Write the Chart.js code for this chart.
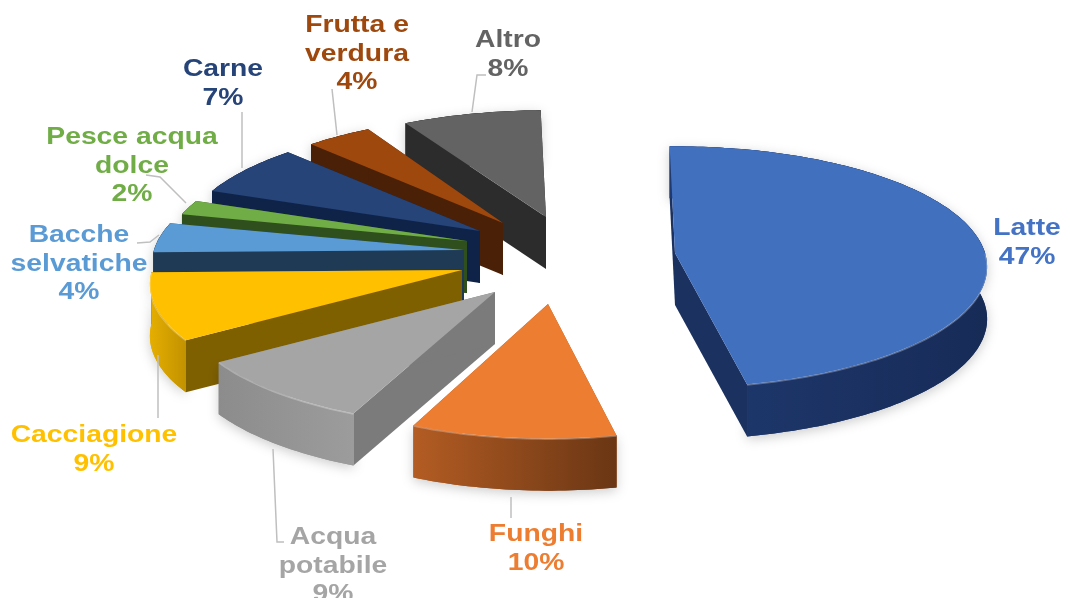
<!DOCTYPE html>
<html>
<head>
<meta charset="utf-8">
<title>Latte 47%</title>
<style>
  html, body { margin: 0; padding: 0; background: #fff; }
  canvas { display: block; }
</style>
<script src="https://cdn.jsdelivr.net/npm/chart.js@4/dist/chart.umd.min.js"></script>
</head>
<body>
<canvas id="pie" width="1068" height="598"></canvas>
<script>
// ── Data ────────────────────────────────────────────────────
const categories = ['Latte', 'Funghi', ['Acqua', 'potabile'], 'Cacciagione', ['Bacche', 'selvatiche'],
  ['Pesce acqua', 'dolce'], 'Carne', ['Frutta e', 'verdura'], 'Altro'];
const values = [47, 10, 9, 9, 4, 2, 7, 4, 8];

// ── Colours ─────────────────────────────────────────────────
const topColors = ['#4170bf', '#ed7d31', '#a5a5a5', '#ffc000', '#5b9bd5', '#70ad47', '#264478', '#9e480e', '#636363'];
const faceColors = ['#1b3160', '#a5541e', '#7b7b7b', '#7f6000', '#1f3a55', '#2f4f1c', '#0f2348', '#4a2006', '#2c2c2c'];
const rimColors = [
  ['#1f3a70', '#172b57'], ['#b35c23', '#6a3614'], ['#8c8c8c', '#9c9c9c'],
  ['#e5ae00', '#c29200'], ['#1f3a55', '#1f3a55'], ['#2f4f1c', '#2f4f1c'],
  ['#0f2348', '#0f2348'], ['#4a2006', '#4a2006'], ['#2c2c2c', '#2c2c2c']
];
const textColors = ['#4472c4', '#ed7d31', '#a5a5a5', '#ffc000', '#5b9bd5', '#70ad47', '#264478', '#9e480e', '#636363'];

// ── Layout ──────────────────────────────────────────────────
// where each exploded slice's tip sits on the page
const sliceTips = [[675, 253], [548, 304], [495, 292], [462, 270], [464, 250], [467, 241], [480, 231], [503, 223], [546, 217]];
// horizontal narrowing of each slice
const sliceWidths = [1, 0.95, 1, 1, 1, 0.97, 0.96, 0.96, 1];
// label anchor: centre x, first line centre y
const labelAnchors = [[1027, 229], [536, 535], [333, 538], [94, 436], [79, 236], [132, 138], [223, 70], [357, 26], [508, 41]];
const leaderLines = [
  null,
  [[511, 497], [511, 518]],
  [[273, 449], [277, 542], [284, 542]],
  [[158, 355], [158, 418]],
  [[137, 243], [150, 242], [159, 235]],
  [[146, 175], [160, 177], [186, 203]],
  [[242, 112], [242, 168]],
  [[332, 89], [337, 135]],
  [[486, 75], [477, 75], [472, 112]]
];

const SQUASH = 0.384;      // ellipse height / width
const PERSPECTIVE = 0.116; // how much nearer the front rim looks
const DEPTH = 52;          // slice thickness
const LINE_H = 28.5;
const TEXT_STRETCH = 1.23; // labels are set wide

// ── Plugin: tilted, extruded pie drawn from the arc elements ─
function project(tip, radius, angle, widthScale) {
  const u = Math.cos(angle), v = Math.sin(angle);
  const f = 1 / (1 - PERSPECTIVE * v);
  return [tip[0] + radius * widthScale * u * f, tip[1] + radius * SQUASH * v * f];
}

function rimPoints(arc, i) {
  const pts = [];
  const steps = Math.max(4, Math.ceil((arc.endAngle - arc.startAngle) / 0.02));
  for (let s = 0; s <= steps; s++) {
    pts.push(project(sliceTips[i], arc.outerRadius, arc.startAngle + (arc.endAngle - arc.startAngle) * s / steps, sliceWidths[i]));
  }
  return pts;
}

function fillPoly(ctx, pts, fill) {
  ctx.fillStyle = fill;
  ctx.beginPath();
  pts.forEach((p, i) => i ? ctx.lineTo(p[0], p[1]) : ctx.moveTo(p[0], p[1]));
  ctx.closePath();
  ctx.fill();
}

function drawSlice(ctx, arc, i) {
  const tip = sliceTips[i];
  const rim = rimPoints(arc, i);
  const first = rim[0], last = rim[rim.length - 1];
  const down = p => [p[0], p[1] + DEPTH];

  // rim wall, with a soft shadow on the paper
  const xs = rim.map(p => p[0]);
  const grad = ctx.createLinearGradient(Math.min(...xs), 0, Math.max(...xs), 0);
  grad.addColorStop(0, rimColors[i][0]);
  grad.addColorStop(1, rimColors[i][1]);
  const wall = rim.concat(rim.slice().reverse().map(down));
  ctx.save();
  ctx.shadowColor = 'rgba(0,0,0,.2)';
  ctx.shadowBlur = 12;
  ctx.shadowOffsetY = 3;
  fillPoly(ctx, wall, grad);
  ctx.restore();

  // the two cut faces
  fillPoly(ctx, [tip, first, down(first), down(tip)], faceColors[i]);
  fillPoly(ctx, [tip, last, down(last), down(tip)], faceColors[i]);
  fillPoly(ctx, wall, grad);

  // top surface
  fillPoly(ctx, [tip].concat(rim), topColors[i]);

  // bevel highlight, only where the rim faces the viewer
  ctx.strokeStyle = 'rgba(255,255,255,.28)';
  ctx.lineWidth = 1.5;
  ctx.beginPath();
  let pen = false;
  rim.forEach(p => {
    if (p[1] < tip[1]) { pen = false; return; }
    if (pen) ctx.lineTo(p[0], p[1] + 0.5);
    else ctx.moveTo(p[0], p[1] + 0.5);
    pen = true;
  });
  ctx.stroke();
}

function drawLabel(ctx, i) {
  const lines = [].concat(categories[i], values[i] + '%');
  const [cx, cy] = labelAnchors[i];
  ctx.fillStyle = textColors[i];
  lines.forEach((line, k) => {
    ctx.save();
    ctx.translate(cx, cy + k * LINE_H);
    ctx.scale(TEXT_STRETCH, 1);
    ctx.fillText(line, 0, 0);
    ctx.restore();
  });
}

const pie3dPlugin = {
  id: 'pie3d',
  beforeDatasetsDraw(chart) {
    const { ctx } = chart;
    const arcs = chart.getDatasetMeta(0).data;

    ctx.save();
    // nearest slices last so they cover the ones behind
    for (let i = arcs.length - 1; i >= 0; i--) drawSlice(ctx, arcs[i], i);

    ctx.strokeStyle = '#bfbfbf';
    ctx.lineWidth = 1.5;
    leaderLines.forEach(line => {
      if (!line) return;
      ctx.beginPath();
      line.forEach((p, k) => k ? ctx.lineTo(p[0], p[1]) : ctx.moveTo(p[0], p[1]));
      ctx.stroke();
    });

    ctx.font = "bold 23px 'Liberation Sans', Arial, sans-serif";
    ctx.textAlign = 'center';
    ctx.textBaseline = 'middle';
    arcs.forEach((_, i) => drawLabel(ctx, i));
    ctx.restore();
    return false;
  }
};

new Chart(document.getElementById('pie'), {
  type: 'pie',
  data: {
    labels: categories,
    datasets: [{ data: values, backgroundColor: topColors, borderWidth: 0 }]
  },
  options: {
    responsive: false,
    animation: false,
    rotation: -1.1,
    radius: 310,
    layout: { padding: 0 },
    plugins: { legend: { display: false }, tooltip: { enabled: false } }
  },
  plugins: [pie3dPlugin]
});
</script>
</body>
</html>
